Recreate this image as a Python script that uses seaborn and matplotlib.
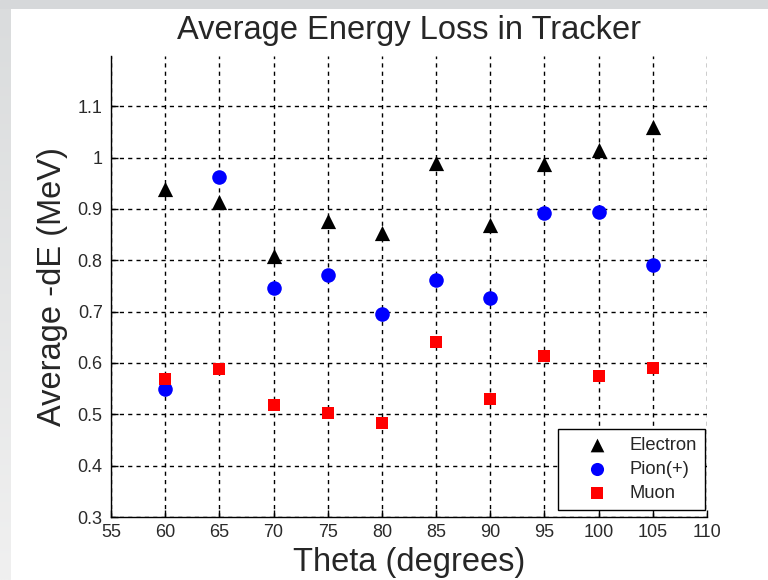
import numpy as np
import pandas as pd
import matplotlib
matplotlib.use("Agg")
import matplotlib.pyplot as plt
import seaborn as sns
from matplotlib.colors import LinearSegmentedColormap

theta = [60, 65, 70, 75, 80, 85, 90, 95, 100, 105]
electron = [0.938, 0.913, 0.808, 0.876, 0.853, 0.989, 0.868, 0.987, 1.014, 1.060]
pion = [0.549, 0.963, 0.746, 0.771, 0.695, 0.761, 0.726, 0.893, 0.895, 0.790]
muon = [0.568, 0.588, 0.518, 0.502, 0.484, 0.640, 0.530, 0.613, 0.574, 0.590]
series = ["Electron", "Pion(+)", "Muon"]
xticks = [55, 60, 65, 70, 75, 80, 85, 90, 95, 100, 105, 110]
yticks = [0.3, 0.4, 0.5, 0.6, 0.7, 0.8, 0.9, 1.0, 1.1]
ytick_labels = ["0.3", "0.4", "0.5", "0.6", "0.7", "0.8", "0.9", "1", "1.1"]

df = pd.DataFrame({
    "theta": theta * 3,
    "dE": electron + pion + muon,
    "particle": [series[0]] * len(theta) + [series[1]] * len(theta) + [series[2]] * len(theta),
})

sns.set_style("white")
plt.rcParams["font.family"] = ["Liberation Sans", "DejaVu Sans"]

fig = plt.figure(figsize=(7.68, 5.80), dpi=100)
fig.patch.set_facecolor("white")

# screenshot frame bands
top = fig.add_axes([0, 1 - 9 / 580, 1, 9 / 580])
top.set_axis_off()
top.add_patch(plt.Rectangle((0, 0), 1, 1, transform=top.transAxes, color="#d6d8da"))
left = fig.add_axes([0, 0, 11 / 768, 1 - 9 / 580])
grad = np.linspace(0, 1, 256).reshape(-1, 1)
cm = LinearSegmentedColormap.from_list("g", ["#dadcdd", "#f0f0f0"])
left.imshow(grad, aspect="auto", cmap=cm, extent=[0, 1, 0, 1], origin="upper")
left.set_axis_off()

ax = fig.add_axes([111 / 768, 63 / 580, (707 - 111) / 768, (517 - 56) / 580])
palette = {"Electron": "black", "Pion(+)": "#0000ff", "Muon": "#ff0000"}
markers = {"Electron": "^", "Pion(+)": "o", "Muon": "s"}
sizes_map = {"Electron": 120, "Pion(+)": 110, "Muon": 85}
for name in series:
    sub = df[df["particle"] == name]
    sns.scatterplot(data=sub, x="theta", y="dE", color=palette[name], marker=markers[name],
                    s=sizes_map[name], linewidth=0, ax=ax, label=name, zorder=3)

ax.set_xlim(55, 110)
ax.set_ylim(0.3, 1.198)
ax.set_xticks(xticks)
ax.set_xticklabels([str(t) for t in xticks])
ax.set_yticks(yticks)
ax.set_yticklabels(ytick_labels)
ax.grid(True, color="black", linestyle=(0, (3, 3)), linewidth=1.0, zorder=1)
ax.set_axisbelow(True)
for s in ["top", "right"]:
    ax.spines[s].set_visible(False)
for s in ["left", "bottom"]:
    ax.spines[s].set_color("black")
    ax.spines[s].set_linewidth(1.0)
ax.tick_params(axis="both", direction="in", length=5, width=1, colors="black",
               labelsize=13, labelcolor="#2a2a2a", left=True, bottom=True)
ax.tick_params(axis="x", pad=5)
ax.tick_params(axis="y", pad=6)

ax.set_title("Average Energy Loss in Tracker", fontsize=23.5, pad=12)
ax.set_xlabel("Theta (degrees)", fontsize=23.5, labelpad=4)
ax.set_ylabel("Average -dE (MeV)", fontsize=23.5, labelpad=7)

leg = ax.legend(loc="lower right", bbox_to_anchor=((705 - 111) / 596, 7 / 461), fontsize=13.2,
                frameon=True, fancybox=False, edgecolor="black", framealpha=1,
                borderpad=0.45, labelspacing=0.37, handletextpad=0.05, borderaxespad=0,
                handlelength=3.4, markerscale=0.9)
leg.get_frame().set_linewidth(1.0)

fig.savefig("out.png", dpi=100, facecolor=fig.get_facecolor())
